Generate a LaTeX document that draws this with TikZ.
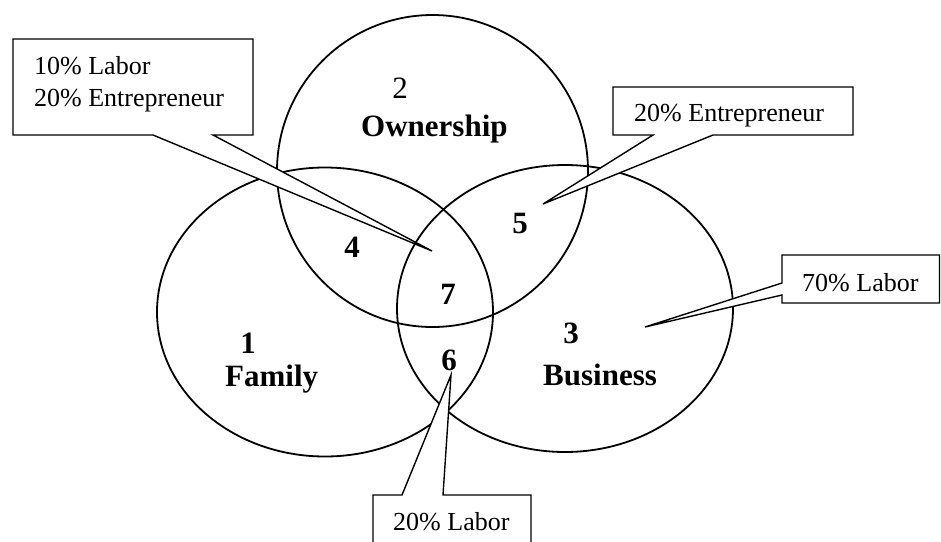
\documentclass[tikz,border=0pt]{standalone}
\usepackage{fontspec}
\setmainfont{Liberation Serif}
\usetikzlibrary{shapes.geometric}
\tikzset{
  setring/.style={draw, line width=1.8pt, ellipse, inner sep=0pt},
  calloutbox/.style={draw, fill=white, line width=1.4pt, line join=miter},
  lbl/.style={font=\fontsize{31}{31}\selectfont\bfseries, inner sep=0pt, anchor=base},
  lblword/.style={font=\fontsize{31}{31}\selectfont\bfseries, inner sep=0pt, anchor=base west},
  note/.style={font=\fontsize{26}{26}\selectfont, inner sep=0pt, anchor=base west},
}
\begin{document}
\begin{tikzpicture}[x=1pt, y=-1pt]
\useasboundingbox (0,0) rectangle (941,541);

% the three overlapping sets
\node[setring, minimum width=311pt, minimum height=312pt] (own) at (432.5,171) {};
\node[setring, minimum width=336pt, minimum height=289pt] (fam) at (325,312) {};
\node[setring, minimum width=336pt, minimum height=287pt] (bus) at (565,308.5) {};

% pointer tips of the callouts
\coordinate (tipA) at (432,251);
\coordinate (tipB) at (543,204);
\coordinate (tipC) at (645,327);
\coordinate (tipD) at (451,375);

% callout outlines, each a box with a wedge pointing into a region
\path[calloutbox] (13,39) -- (253,39) -- (253,135) -- (213,135) -- (tipA)
  -- (153,135) -- (13,135) -- cycle;
\path[calloutbox] (613,87) -- (853,87) -- (853,135) -- (713,135) -- (tipB)
  -- (653,135) -- (613,135) -- cycle;
\path[calloutbox] (782,255) -- (939.5,255) -- (939.5,303) -- (782,303)
  -- (782,295) -- (tipC) -- (782,283) -- cycle;
\path[calloutbox] (373,495) -- (402,495) -- (tipD) -- (443,495) -- (531,495)
  -- (531,545) -- (373,545) -- cycle;

% callout texts
\node[note] (tA1) at (34,74) {10\% Labor};
\node[note] (tA2) at (34,106) {20\% Entrepreneur};
\node[note] (tB) at (634,121) {20\% Entrepreneur};
\node[note] (tC) at (802,291) {70\% Labor};
\node[note] (tD) at (393,530) {20\% Labor};

% region numbers and set names
\node[lbl, font=\fontsize{31}{31}\selectfont] (n2) at (400,98) {2};
\node[lblword] (wOwn) at (361,136) {Ownership};
\node[lbl] (n4) at (352,257) {4};
\node[lbl] (n5) at (520,233) {5};
\node[lbl] (n7) at (448,304) {7};
\node[lbl] (n6) at (449,370) {6};
\node[lbl] (n1) at (248,353) {1};
\node[lblword] (wFam) at (225,386) {Family};
\node[lbl] (n3) at (571,343) {3};
\node[lblword] (wBus) at (543,385) {Business};
\end{tikzpicture}
\end{document}
